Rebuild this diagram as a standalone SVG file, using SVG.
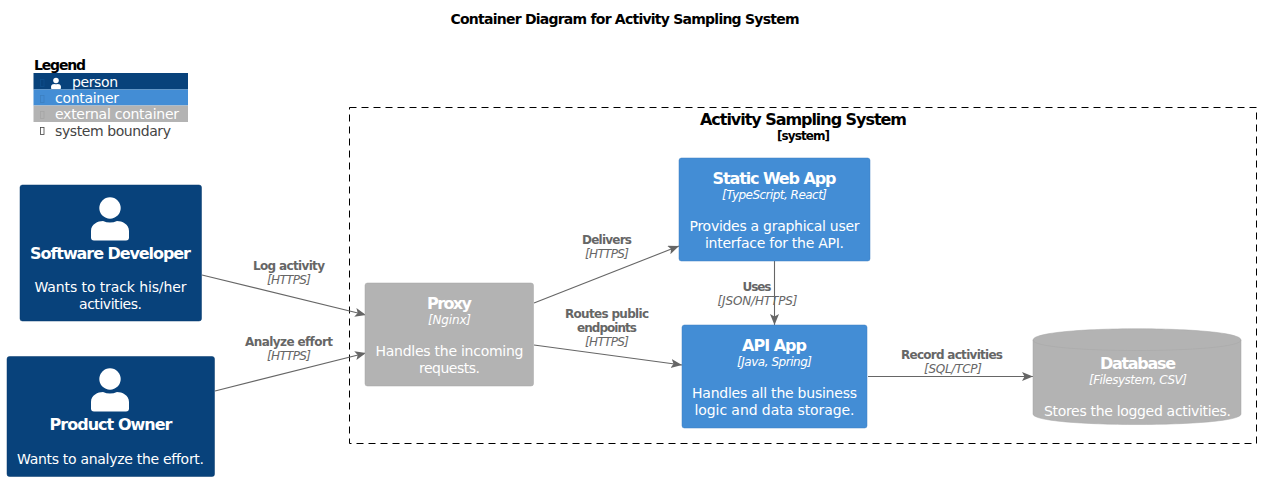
<svg xmlns="http://www.w3.org/2000/svg" width="1262" height="481" viewBox="0 0 1262 481">
<style>
text{font-family:"DejaVu Sans","Liberation Sans",sans-serif;text-anchor:middle}
.n{font-size:16px;font-weight:bold;fill:#fff}
.t{font-size:12px;font-style:italic;fill:#fff}
.d{font-size:14px;fill:#fff}
.l{font-size:12px;font-weight:bold;fill:#666}
.lt{font-size:12px;font-style:italic;fill:#666}
.lg{font-size:14px;text-anchor:start}
.c{fill:none;stroke:#666;stroke-width:1.1}
.p{fill:#08427b;stroke:#073b6f;stroke-width:.5}
.b{fill:#438dd5;stroke:#3c7fc0;stroke-width:.5}
.g{fill:#b3b3b3;stroke:#a6a6a6;stroke-width:.5}
.tf{fill:none;stroke-width:.8}
</style>
<defs>
<marker id="a" markerUnits="userSpaceOnUse" markerWidth="12" markerHeight="10" refX="11" refY="4.5" orient="auto"><path d="M0 0L11 4.500L0 9L2.500 4.500Z" fill="#666"/></marker>
<g id="u"><circle cx="0" cy="-21" r="10.700" fill="#fff"/><path d="M-19 11.500V2C-19-5-12-8-7-8Q0-5 7-8C12-8 19-5 19 2V8.500Q19 11.500 16 11.500H-16Q-19 11.500-19 8.500Z" fill="#fff"/></g>
</defs>
<text x="625" y="23.500" style="font-size:14px;font-weight:bold" fill="#000" textLength="349">Container Diagram for Activity Sampling System</text>
<g id="legend">
<text class="lg" x="34" y="70" font-weight="bold" fill="#000" textLength="52">Legend</text>
<rect x="33.500" y="73" width="154.500" height="16.500" fill="#08427b"/>
<rect x="33.500" y="89.500" width="154.500" height="16" fill="#438dd5"/>
<rect x="33.500" y="105.500" width="154.500" height="16.500" fill="#b3b3b3"/>
<rect class="tf" x="40.500" y="79.500" width="3.500" height="7" stroke="#0f4f8c"/>
<rect class="tf" x="40.500" y="95.500" width="3.500" height="7" stroke="#3c7fc0"/>
<rect class="tf" x="40.500" y="111.500" width="3.500" height="7" stroke="#a6a6a6"/>
<g transform="translate(56 86) scale(.26)"><use href="#u"/></g>
<text class="lg" x="72" y="87" fill="#fff" textLength="46">person</text>
<text class="lg" x="55" y="103" fill="#fff" textLength="64">container</text>
<text class="lg" x="55" y="119" fill="#fff" textLength="124">external container</text>
<rect class="tf" x="40.500" y="127.500" width="3.500" height="7" stroke="#444"/>
<text class="lg" x="55" y="136" fill="#444" textLength="116">system boundary</text>
</g>
<g id="boundary">
<rect x="349.500" y="107.500" width="907" height="336" fill="none" stroke="#000" stroke-width="1" stroke-dasharray="7 5"/>
<text x="803.500" y="125" style="font-size:16px;font-weight:bold" fill="#000" textLength="207">Activity Sampling System</text>
<text x="803.500" y="140" style="font-size:12px;font-weight:bold" fill="#000" textLength="53">[system]</text>
</g>
<g id="connectors">
<path class="c" d="M202 275L366 315" marker-end="url(#a)"/>
<path class="c" d="M215 391L366 353" marker-end="url(#a)"/>
<path class="c" d="M534 303L679 246" marker-end="url(#a)"/>
<path class="c" d="M534 345L682 365" marker-end="url(#a)"/>
<path class="c" d="M774.500 261V325" marker-end="url(#a)"/>
<path class="c" d="M868 376.500H1033" marker-end="url(#a)"/>
<text class="l" x="289" y="270" textLength="72">Log activity</text>
<text class="lt" x="289" y="284" textLength="44">[HTTPS]</text>
<text class="l" x="289" y="346" textLength="88">Analyze effort</text>
<text class="lt" x="289" y="360" textLength="44">[HTTPS]</text>
<text class="l" x="607" y="244" textLength="50">Delivers</text>
<text class="lt" x="607" y="258" textLength="44">[HTTPS]</text>
<text class="l" x="607" y="318" textLength="84">Routes public</text>
<text class="l" x="607" y="332" textLength="60">endpoints</text>
<text class="lt" x="607" y="346" textLength="44">[HTTPS]</text>
<text class="l" x="757" y="291" textLength="29">Uses</text>
<text class="lt" x="757.500" y="305" textLength="80">[JSON/HTTPS]</text>
<text class="l" x="952" y="359" textLength="102">Record activities</text>
<text class="lt" x="953" y="373" textLength="58">[SQL/TCP]</text>
</g>
<g id="developer">
<rect class="p" x="20" y="185" width="181.500" height="136" rx="2.500"/>
<use href="#u" x="110" y="229"/>
<text class="n" x="110.500" y="259" textLength="161">Software Developer</text>
<text class="d" x="110.500" y="292" textLength="152">Wants to track his/her</text>
<text class="d" x="110.500" y="309" textLength="63">activities.</text>
</g>
<g id="owner">
<rect class="p" x="7" y="356.500" width="207.500" height="120" rx="2.500"/>
<use href="#u" x="110" y="400"/>
<text class="n" x="111" y="430" textLength="123">Product Owner</text>
<text class="d" x="110.500" y="464" textLength="187">Wants to analyze the effort.</text>
</g>
<g id="proxy">
<rect class="g" x="365" y="283" width="168.500" height="103" rx="2.500"/>
<text class="n" x="449.500" y="309" textLength="45">Proxy</text>
<text class="t" x="449.500" y="324" textLength="43">[Nginx]</text>
<text class="d" x="449.500" y="356" textLength="148">Handles the incoming</text>
<text class="d" x="449.500" y="373" textLength="61">requests.</text>
</g>
<g id="static">
<rect class="b" x="679" y="158" width="191" height="103" rx="2.500"/>
<text class="n" x="774.500" y="184" textLength="124">Static Web App</text>
<text class="t" x="774.500" y="199" textLength="105">[TypeScript, React]</text>
<text class="d" x="774.500" y="231" textLength="170">Provides a graphical user</text>
<text class="d" x="774.500" y="248" textLength="139">interface for the API.</text>
</g>
<g id="api">
<rect class="b" x="682" y="325" width="185" height="103" rx="2.500"/>
<text class="n" x="774.500" y="351" textLength="65">API App</text>
<text class="t" x="774.500" y="366" textLength="75">[Java, Spring]</text>
<text class="d" x="774.500" y="398" textLength="165">Handles all the business</text>
<text class="d" x="774.500" y="415" textLength="160">logic and data storage.</text>
</g>
<g id="database">
<path class="g" d="M1033 340C1033 325 1241 325 1241 340V414C1241 428 1033 428 1033 414Z"/>
<path d="M1033 340C1033 354 1241 354 1241 340" fill="none" stroke="#a6a6a6" stroke-width=".5"/>
<text class="n" x="1138" y="369" textLength="76">Database</text>
<text class="t" x="1138" y="384" textLength="98">[Filesystem, CSV]</text>
<text class="d" x="1137.500" y="416" textLength="187">Stores the logged activities.</text>
</g>
</svg>
